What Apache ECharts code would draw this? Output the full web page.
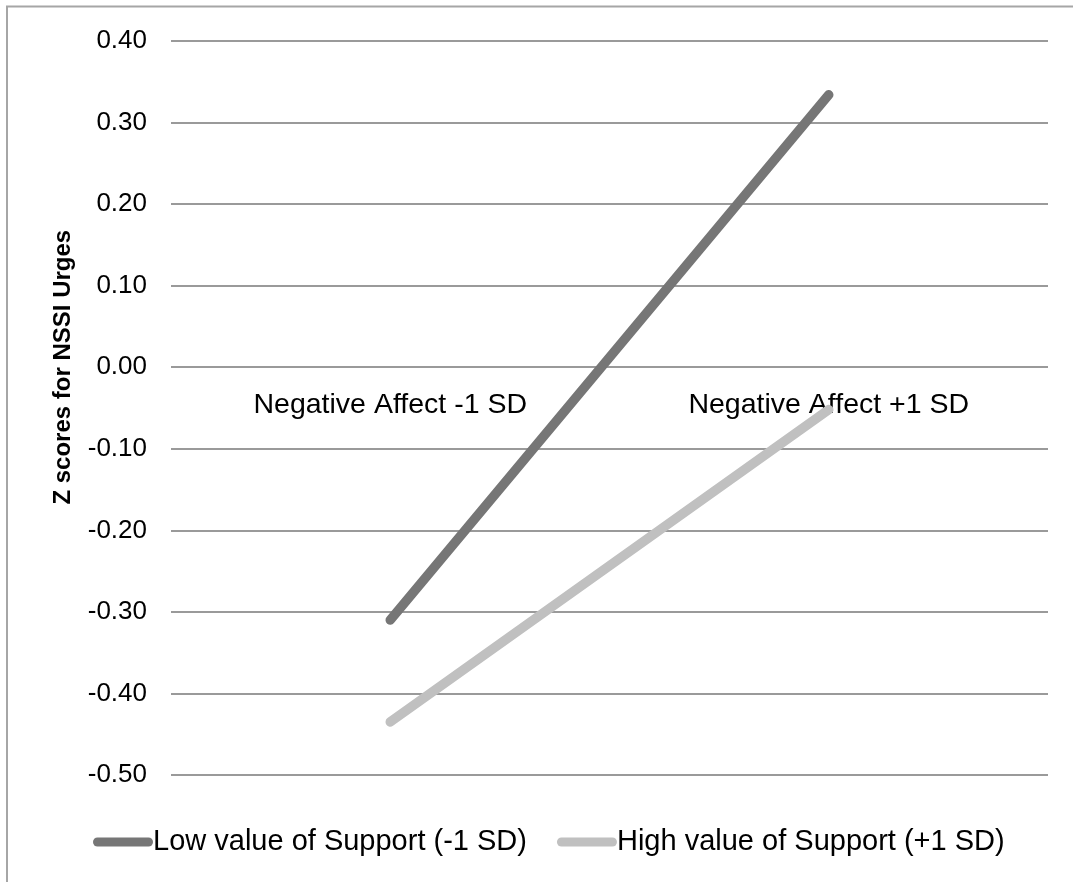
<!DOCTYPE html>
<html>
<head>
<meta charset="utf-8">
<script src="https://cdn.jsdelivr.net/npm/echarts@6/dist/echarts.min.js"></script>
<style>
html,body{margin:0;padding:0;background:#fff;}
#chart{width:1073px;height:882px;}
</style>
</head>
<body>
<div id="chart"></div>
<script>
const categories = ['Negative Affect -1 SD', 'Negative Affect +1 SD'];
const lowSupport = [-0.31, 0.334];
const highSupport = [-0.435, -0.052];
const seriesNames = ['Low value of Support (-1 SD)', 'High value of Support (+1 SD)'];
const yAxisTitle = 'Z scores for NSSI Urges';
const yMin = -0.5, yMax = 0.4, yStep = 0.1;

const font = '"Liberation Sans", Arial, sans-serif';
const gridTop = 41, gridBottom = 107, H = 882;
const plotH = H - gridTop - gridBottom;
const zeroFromBottom = plotH * (0 - yMin) / (yMax - yMin);

const chart = echarts.init(document.getElementById('chart'));
chart.setOption({
  animation: false,
  backgroundColor: '#ffffff',
  graphic: [{
    type: 'rect',
    shape: { x: 7, y: 6.5, width: 1200, height: 1000 },
    style: { fill: 'none', stroke: '#a6a6a6', lineWidth: 2 },
    silent: true
  }, {
    type: 'text',
    x: 63, y: gridTop + plotH - zeroFromBottom,
    rotation: Math.PI / 2,
    style: {
      text: yAxisTitle, fontFamily: font, fontSize: 24, fontWeight: 'bold', fill: '#000',
      align: 'center', verticalAlign: 'middle'
    },
    silent: true
  }],
  grid: { left: 171, right: 25, top: gridTop, bottom: gridBottom, containLabel: false },
  legend: {
    left: 88,
    top: 822,
    itemWidth: 60,
    itemHeight: 9,
    itemGap: 30,
    icon: 'path://M4.5,0 L55.5,0 A4.5,4.5 0 0 1 55.5,9 L4.5,9 A4.5,4.5 0 0 1 4.5,0 Z',
    textStyle: { fontFamily: font, fontSize: 29, color: '#000', padding: [0, 0, 0, -5], lineHeight: 30 },
    data: seriesNames
  },
  xAxis: {
    type: 'category',
    data: categories,
    boundaryGap: true,
    position: 'bottom',
    offset: -zeroFromBottom,
    axisLine: { show: false, onZero: false },
    axisTick: { show: false },
    axisLabel: { fontFamily: font, fontSize: 28.5, color: '#000', margin: 23 },
    splitLine: { show: false }
  },
  yAxis: {
    type: 'value',
    min: yMin,
    max: yMax,
    interval: yStep,
    axisLine: { show: false },
    axisTick: { show: false },
    axisLabel: {
      fontFamily: font, fontSize: 26, color: '#000', margin: 24,
      formatter: v => (Math.abs(v) < 1e-9 ? 0 : v).toFixed(2)
    },
    splitLine: { show: true, lineStyle: { color: '#9a9a9a', width: 2 } }
  },
  series: [
    {
      name: seriesNames[0],
      type: 'line',
      data: lowSupport,
      symbol: 'none',
      itemStyle: { color: '#767676' },
      lineStyle: { color: '#767676', width: 9.5, cap: 'round' },
      z: 3
    },
    {
      name: seriesNames[1],
      type: 'line',
      data: highSupport,
      symbol: 'none',
      itemStyle: { color: '#c0c0c0' },
      lineStyle: { color: '#c0c0c0', width: 9.5, cap: 'round' },
      z: 2
    }
  ]
});
</script>
</body>
</html>
